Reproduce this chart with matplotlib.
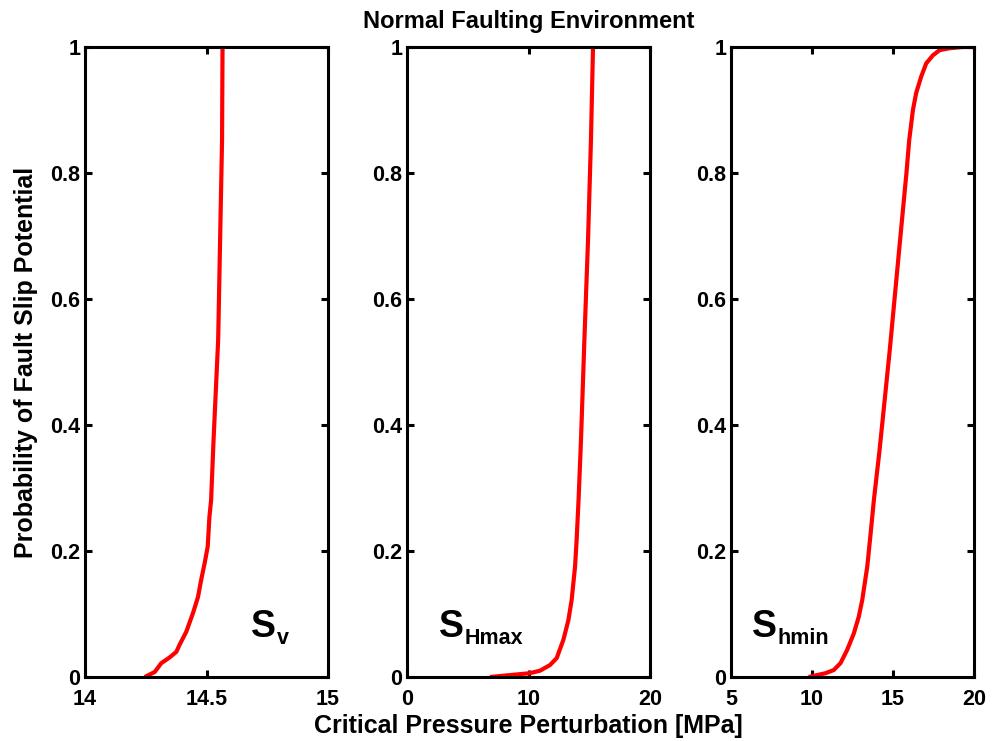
import matplotlib
matplotlib.use("Agg")
import matplotlib.pyplot as plt

plt.rcParams['font.family'] = ['Liberation Sans', 'DejaVu Sans']

title = "Normal Faulting Environment"
xlabel = "Critical Pressure Perturbation [MPa]"
ylabel = "Probability of Fault Slip Potential"

# Sv panel
sv_x = [14.246, 14.287, 14.314, 14.348, 14.376, 14.389, 14.417, 14.444, 14.465, 14.478, 14.492,
        14.505, 14.512, 14.519, 14.529, 14.548, 14.556, 14.564, 14.566]
sv_p = [0.0, 0.008, 0.022, 0.031, 0.040, 0.051, 0.072, 0.101, 0.127, 0.154, 0.180,
        0.207, 0.254, 0.281, 0.376, 0.535, 0.694, 0.852, 1.0]
# SHmax panel
sh_x = [6.83, 10.1, 10.95, 11.77, 12.32, 12.87, 13.28, 13.55, 13.83, 13.96, 14.12, 14.32,
        14.6, 14.9, 15.14, 15.31]
sh_p = [0.0, 0.006, 0.010, 0.019, 0.030, 0.059, 0.090, 0.122, 0.175, 0.217, 0.281, 0.376,
        0.535, 0.694, 0.852, 1.0]
# Shmin panel
shm_x = [9.79, 10.83, 11.34, 11.76, 12.17, 12.58, 12.89, 13.10, 13.41, 13.62, 13.82, 14.17,
         14.8, 15.38, 15.83, 16.0, 16.23, 16.43, 16.74, 17.05, 17.47, 17.88, 18.48, 19.33, 20.0]
shm_p = [0.0, 0.006, 0.011, 0.022, 0.043, 0.069, 0.096, 0.122, 0.175, 0.228, 0.281, 0.360,
         0.519, 0.678, 0.800, 0.852, 0.900, 0.927, 0.953, 0.974, 0.987, 0.995, 0.998, 1.0, 1.0]

panels = [
    dict(x=sv_x, p=sv_p, xlim=(14, 15), xticks=[14, 14.5, 15], xtl=["14", "14.5", "15"],
         main="S", sub="v", lx=14.684, left=85),
    dict(x=sh_x, p=sh_p, xlim=(0, 20), xticks=[0, 10, 20], xtl=["0", "10", "20"],
         main="S", sub="Hmax", lx=2.6, left=407),
    dict(x=shm_x, p=shm_p, xlim=(5, 20), xticks=[5, 10, 15, 20], xtl=["5", "10", "15", "20"],
         main="S", sub="hmin", lx=6.3, left=731),
]
yticks = [0, 0.2, 0.4, 0.6, 0.8, 1.0]
ytl = ["0", "0.2", "0.4", "0.6", "0.8", "1"]

W, H = 993, 741
fig = plt.figure(figsize=(W / 100, H / 100), dpi=100)
axes = []
for pn in panels:
    ax = fig.add_axes([pn['left'] / W, (H - 677) / H, 243 / W, 630 / H])
    ax.plot(pn['x'], pn['p'], color='#ff0000', lw=3.0, solid_capstyle='butt',
            solid_joinstyle='round')
    ax.set_xlim(*pn['xlim'])
    ax.set_ylim(0, 1)
    ax.set_xticks(pn['xticks'])
    ax.set_xticklabels(pn['xtl'], fontweight='bold')
    ax.set_yticks(yticks)
    ax.set_yticklabels(ytl, fontweight='bold')
    ax.tick_params(direction='in', length=5, width=2.2, top=True, right=True,
                   labelsize=15.5)
    ax.tick_params(axis='x', pad=8.5)
    ax.tick_params(axis='y', pad=3.5)
    for s in ax.spines.values():
        s.set_linewidth(2.2)
    t = ax.text(pn['lx'], 0.063, pn['main'], fontsize=27, fontweight='bold',
                ha='left', va='baseline')
    ax.annotate(pn['sub'], xy=(1, 0), xycoords=t, xytext=(0.5, 1), textcoords='offset points',
                fontsize=15.5, fontweight='bold', ha='left', va='baseline')
    axes.append(ax)

axes[1].set_title(title, fontsize=17, fontweight='bold', pad=14)
axes[1].set_xlabel(xlabel, fontsize=18, fontweight='bold', labelpad=3)
axes[0].set_ylabel(ylabel, fontsize=18, fontweight='bold', labelpad=9)

fig.savefig("out.png", dpi=100)
